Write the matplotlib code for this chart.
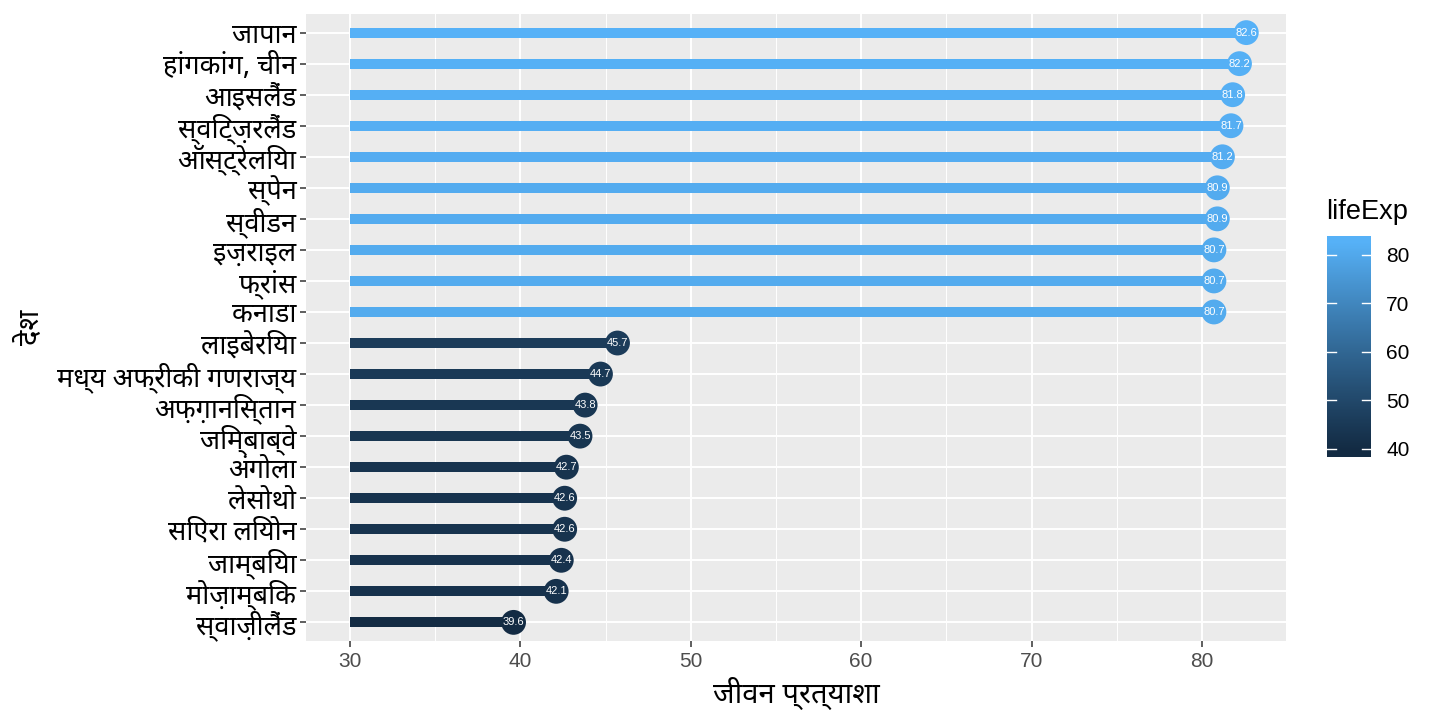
import matplotlib
matplotlib.use("Agg")
import numpy as np
from matplotlib import pyplot as plt
from matplotlib import font_manager as fm
from matplotlib.colors import ListedColormap, Normalize

countries = [
    "जापान", "हांगकांग, चीन", "आइसलैंड", "स्विट्ज़रलैंड", "ऑस्ट्रेलिया",
    "स्पेन", "स्वीडन", "इज़राइल", "फ्रांस", "कनाडा",
    "लाइबेरिया", "मध्य अफ्रीकी गणराज्य", "अफ़ग़ानिस्तान", "जिम्बाब्वे", "अंगोला",
    "लेसोथो", "सिएरा लियोन", "जाम्बिया", "मोज़ाम्बिक", "स्वाज़ीलैंड",
]
life_exp = [
    82.6, 82.2, 81.8, 81.7, 81.2, 80.9, 80.9, 80.7, 80.7, 80.7,
    45.7, 44.7, 43.8, 43.5, 42.7, 42.6, 42.6, 42.4, 42.1, 39.6,
]
x_ticks = [30, 40, 50, 60, 70, 80]
x_minor = [35, 45, 55, 65, 75]
cbar_ticks = [40, 50, 60, 70, 80]
seg_start = 30

# pick a font with Devanagari glyphs
names = {f.name for f in fm.fontManager.ttflist}
dev = "DejaVu Sans"
for cand in ["Noto Sans Devanagari", "Noto Sans Devanagari UI", "Mukta", "Hind", "Khula"]:
    if cand in names:
        dev = cand
        break
dev_family = [dev, "DejaVu Sans"]
num_family = ["Liberation Sans", "DejaVu Sans"]


# ggplot-like gradient, interpolated in CIELAB
def to_lab(hexc):
    rgb = np.array([int(hexc[i:i + 2], 16) for i in (1, 3, 5)]) / 255.0
    lin = np.where(rgb <= 0.04045, rgb / 12.92, ((rgb + 0.055) / 1.055) ** 2.4)
    m = np.array([[0.4124, 0.3576, 0.1805], [0.2126, 0.7152, 0.0722], [0.0193, 0.1192, 0.9505]])
    xyz = m @ lin / np.array([0.95047, 1.0, 1.08883])
    f = np.where(xyz > 0.008856, np.cbrt(xyz), 7.787 * xyz + 16 / 116)
    return np.array([116 * f[1] - 16, 500 * (f[0] - f[1]), 200 * (f[1] - f[2])])


def from_lab(lab):
    fy = (lab[0] + 16) / 116
    fx = fy + lab[1] / 500
    fz = fy - lab[2] / 200
    f = np.array([fx, fy, fz])
    xyz = np.where(f ** 3 > 0.008856, f ** 3, (f - 16 / 116) / 7.787) * np.array([0.95047, 1.0, 1.08883])
    mi = np.array([[3.2406, -1.5372, -0.4986], [-0.9689, 1.8758, 0.0415], [0.0557, -0.2040, 1.0570]])
    lin = mi @ xyz
    rgb = np.where(lin <= 0.0031308, 12.92 * lin, 1.055 * np.abs(lin) ** (1 / 2.4) - 0.055)
    return np.clip(rgb, 0, 1)


lo_lab, hi_lab = to_lab("#132B43"), to_lab("#56B1F7")
cmap = ListedColormap([from_lab(lo_lab + t * (hi_lab - lo_lab)) for t in np.linspace(0, 1, 256)])
norm = Normalize(vmin=min(life_exp), vmax=max(life_exp))

fig = plt.figure(figsize=(14.4, 7.2), dpi=100)
ax = fig.add_axes([306 / 1440, 1 - 641 / 720, 980 / 1440, 627 / 720])
ax.set_facecolor("#EBEBEB")
for s in ax.spines.values():
    s.set_visible(False)

n = len(countries)
ypos = np.arange(n)[::-1]
colors = cmap(norm(np.array(life_exp)))

ax.hlines(ypos, seg_start, life_exp, colors=colors, linewidth=7.2, capstyle="butt", zorder=3)
ax.scatter(life_exp, ypos, s=320, c=colors, zorder=4, edgecolors="none")
for v, y in zip(life_exp, ypos):
    ax.text(v, y, f"{v:.1f}", ha="center", va="center", fontsize=8, color="white",
            family=num_family, zorder=5)

ax.set_xlim(27.42, 84.93)
ax.set_ylim(-0.6, n - 1 + 0.6)
ax.set_xticks(x_ticks)
ax.set_xticks(x_minor, minor=True)
ax.set_yticks(ypos)
ax.set_yticklabels(countries, family=dev_family, fontsize=19.5, color="black")
ax.grid(which="major", color="white", linewidth=1.4, zorder=0)
ax.grid(which="minor", axis="x", color="white", linewidth=0.7, zorder=0)
ax.set_axisbelow(True)
ax.tick_params(axis="both", which="major", length=4, width=1.1, color="#333333")
ax.tick_params(axis="x", which="minor", length=0)
ax.tick_params(axis="x", labelsize=15, labelcolor="#4D4D4D", pad=4)
ax.tick_params(axis="y", pad=3)
for lab in ax.get_xticklabels():
    lab.set_family(num_family)

ax.set_xlabel("जीवन प्रत्याशा", family=dev_family, fontsize=21, labelpad=4)
ax.set_ylabel("देश", family=dev_family, fontsize=21, labelpad=8)

# colorbar legend
cax = fig.add_axes([1327 / 1440, 1 - 457 / 720, 44 / 1440, 221 / 720])
lo, hi = 38.35, 83.9
grad = np.linspace(lo, hi, 300).reshape(-1, 1)
cax.imshow(grad, aspect="auto", origin="lower", cmap=cmap, norm=norm,
           extent=[0, 1, lo, hi])
cax.set_xlim(0, 1)
cax.set_ylim(lo, hi)
for s in cax.spines.values():
    s.set_visible(False)
cax.set_xticks([])
cax.yaxis.tick_right()
cax.set_yticks(cbar_ticks)
cax.tick_params(axis="y", length=0, labelsize=15, pad=11, labelcolor="black")
for lab in cax.get_yticklabels():
    lab.set_family(num_family)
for t in cbar_ticks:
    cax.plot([0, 0.2], [t, t], color="white", linewidth=1)
    cax.plot([0.8, 1], [t, t], color="white", linewidth=1)
fig.text(1326 / 1440, 1 - 212 / 720, "lifeExp", fontsize=19.5, family=num_family,
         va="center", ha="left")

plt.savefig("out.png", dpi=100)
